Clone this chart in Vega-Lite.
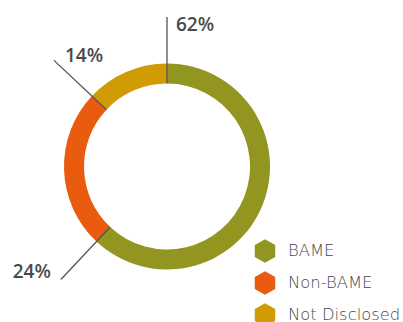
{
  "$schema": "https://vega.github.io/schema/vega-lite/v6.json",
  "width": 334,
  "height": 323,
  "autosize": {"type": "none"},
  "padding": {"left": 0, "top": 5, "right": 69, "bottom": 0},
  "background": "#ffffff",
  "config": {"view": {"stroke": null}},
  "data": {
    "values": [
      {"category": "BAME", "value": 62, "label": "62%"},
      {"category": "Non-BAME", "value": 25, "label": "24%"},
      {"category": "Not Disclosed", "value": 13, "label": "14%"}
    ]
  },
  "transform": [
    {"stack": "value", "groupby": [], "as": ["start", "end"], "sort": [{"field": "category", "order": "ascending"}]}
  ],
  "layer": [
    {
      "mark": {"type": "arc", "radius": 103, "radius2": 83},
      "encoding": {
        "theta": {"field": "start", "type": "quantitative", "stack": null, "scale": {"domain": [0, 100]}},
        "theta2": {"field": "end"},
        "color": {
          "field": "category",
          "type": "nominal",
          "scale": {"domain": ["BAME", "Non-BAME", "Not Disclosed"], "range": ["#939521", "#e95b0f", "#d19b06"]},
          "legend": {
            "title": null,
            "orient": "none",
            "legendX": 253,
            "legendY": 234,
            "padding": 0,
            "symbolType": "M0,-1L0.866,-0.5L0.866,0.5L0,1L-0.866,0.5L-0.866,-0.5Z",
            "symbolSize": 560,
            "symbolStrokeWidth": 0,
            "symbolOpacity": 1,
            "labelFont": "DejaVu Sans",
            "labelFontWeight": 200,
            "labelFontSize": 16.4,
            "labelColor": "#4a4a4a",
            "labelOffset": 11,
            "rowPadding": 8,
            "labelLimit": 200
          }
        }
      }
    },
    {
      "transform": [{"filter": "datum.category === 'BAME'"}],
      "mark": {"type": "arc", "radius": 149.5, "radius2": 83, "filled": false, "color": "#555555", "strokeWidth": 1.3},
      "encoding": {
        "theta": {"field": "start", "type": "quantitative", "stack": null},
        "theta2": {"field": "start"}
      }
    },
    {
      "transform": [{"filter": "datum.category !== 'BAME'"}],
      "mark": {"type": "arc", "radius": 155, "radius2": 83, "filled": false, "color": "#555555", "strokeWidth": 1.3},
      "encoding": {
        "theta": {"field": "start", "type": "quantitative", "stack": null},
        "theta2": {"field": "start"}
      }
    },
    {
      "transform": [{"filter": "datum.category === 'BAME'"}],
      "mark": {"type": "text", "radius": 149.5, "dx": 9, "dy": 8, "align": "left", "baseline": "middle", "font": "Open Sans", "fontWeight": 600, "fontSize": 19, "color": "#4a4a4a"},
      "encoding": {
        "theta": {"field": "start", "type": "quantitative", "stack": null},
        "text": {"field": "label"}
      }
    },
    {
      "transform": [{"filter": "datum.category === 'Not Disclosed'"}],
      "mark": {"type": "text", "radius": 155, "dx": 11, "dy": -4, "align": "left", "baseline": "middle", "font": "Open Sans", "fontWeight": 600, "fontSize": 19, "color": "#4a4a4a"},
      "encoding": {
        "theta": {"field": "start", "type": "quantitative", "stack": null},
        "text": {"field": "label"}
      }
    },
    {
      "transform": [{"filter": "datum.category === 'Non-BAME'"}],
      "mark": {"type": "text", "radius": 155, "dx": -10, "dy": -7, "align": "right", "baseline": "middle", "font": "Open Sans", "fontWeight": 600, "fontSize": 19, "color": "#4a4a4a"},
      "encoding": {
        "theta": {"field": "start", "type": "quantitative", "stack": null},
        "text": {"field": "label"}
      }
    }
  ]
}
